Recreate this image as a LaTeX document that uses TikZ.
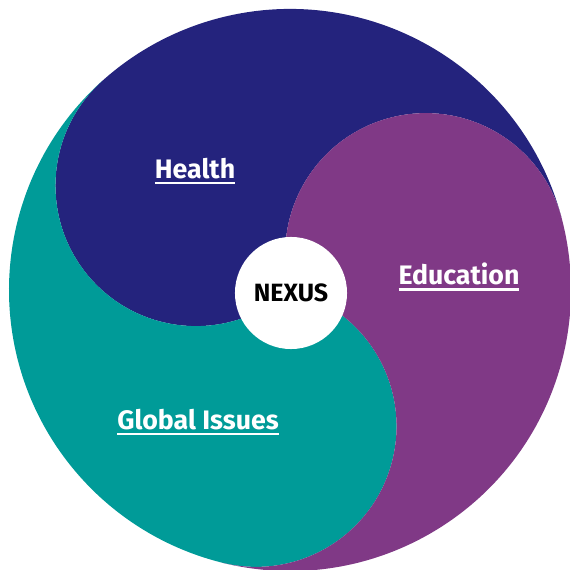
\documentclass[tikz,border=0pt]{standalone}
\usepackage{fontspec}
\setmainfont{Fira Sans}
\definecolor{healthblue}{RGB}{36,35,125}
\definecolor{globalteal}{RGB}{0,155,152}
\definecolor{edupurple}{RGB}{128,57,134}
\newcommand{\topicline}[1]{\setbox0\hbox{#1}\rlap{\rule[-1.7pt]{\wd0}{0.7pt}}\box0}

\begin{document}
\begin{tikzpicture}[x=0.01cm,y=0.01cm,
    topic/.style={text=white,font=\fontsize{7.6}{9}\selectfont\bfseries},
    hub/.style={circle,fill=white,minimum size=1.12cm,inner sep=0pt,font=\fontsize{7.1}{8}\selectfont\bfseries}]
    \useasboundingbox (-290,-280) rectangle (280,290);
    % the three parts
    \fill[healthblue] (15:281) arc[start angle=15,end angle=132,radius=281]
        arc[start angle=132,end angle=312,radius=140.5]
        arc[start angle=195,end angle=15,radius=140.5] -- cycle;
    \fill[globalteal] (132:281) arc[start angle=132,end angle=256,radius=281]
        arc[start angle=256,end angle=436,radius=140.5]
        arc[start angle=312,end angle=132,radius=140.5] -- cycle;
    \fill[edupurple] (256:281) arc[start angle=256,end angle=375,radius=281]
        arc[start angle=15,end angle=195,radius=140.5]
        arc[start angle=436,end angle=256,radius=140.5] -- cycle;
    % labels
    \node[hub] (nexus) at (1,-3) {NEXUS};
    \node[topic] (health) at (-95,119) {\topicline{Health}};
    \node[topic] (education) at (169,13) {\topicline{Education}};
    \node[topic] (global) at (-92,-132) {\topicline{Global Issues}};
\end{tikzpicture}
\end{document}
